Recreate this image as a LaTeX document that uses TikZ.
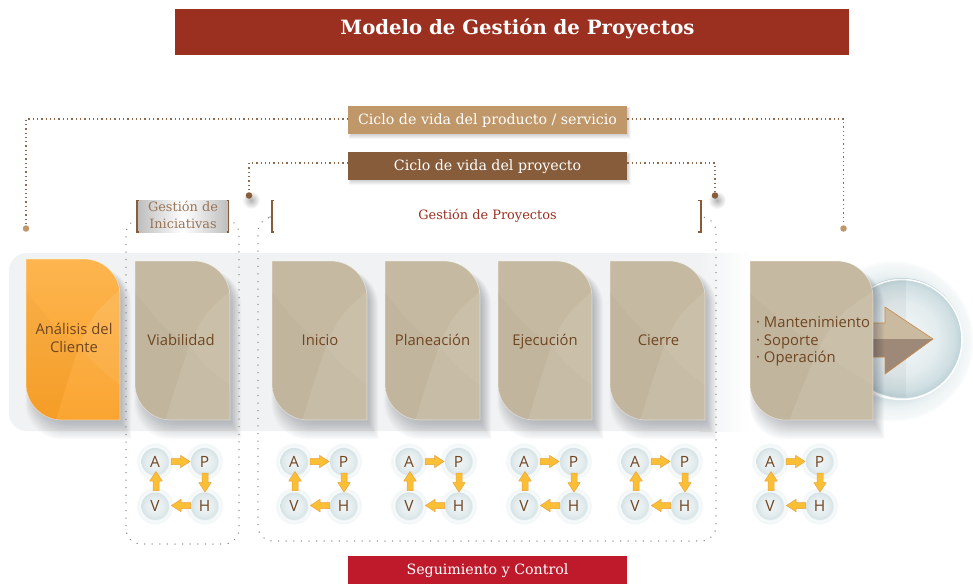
\documentclass[tikz,border=0pt]{standalone}
\usepackage{fontspec}
\setmainfont{DejaVu Serif}
\newfontfamily\cardfont{Open Sans}
\usetikzlibrary{arrows.meta,calc,shadings,fadings}
\definecolor{titlered}{HTML}{9B2F20}
\definecolor{tanbox}{HTML}{C09769}
\definecolor{brownbox}{HTML}{875C3A}
\definecolor{redbox}{HTML}{BE1A2C}
\definecolor{cardtan}{HTML}{C5B9A1}
\definecolor{cardtxt}{HTML}{704622}
\definecolor{dotbrown}{HTML}{8F6A4C}
\definecolor{dotgrey}{HTML}{858585}
\definecolor{arrowy}{HTML}{FBBF35}
\definecolor{arrowe}{HTML}{E9A23B}
\definecolor{discedge}{HTML}{BDD2D7}
\definecolor{orgA}{HTML}{FDB550}
\definecolor{orgB}{HTML}{FAA127}
\definecolor{bandc}{HTML}{F0F2F3}
\definecolor{slate}{HTML}{2A3240}
\definecolor{arrowup}{HTML}{C9BAA0}
\definecolor{arrowlow}{HTML}{9E8878}
\definecolor{arrowline}{HTML}{C98A4A}
\pgfdeclareradialshading{ringshade}{\pgfpoint{0bp}{0bp}}{color(0bp)=(white);color(17bp)=(white);color(18bp)=(discedge!60!white);color(20.5bp)=(discedge!30!white);color(24bp)=(discedge!14!white);color(25bp)=(white);color(50bp)=(white)}
\pgfdeclareradialshading{discshade}{\pgfpoint{0bp}{0bp}}{color(0bp)=(white!85!discedge);color(15bp)=(white!58!discedge);color(22bp)=(white!28!discedge);color(25bp)=(discedge);color(50bp)=(discedge)}
\pgfdeclareradialshading{pdcashade}{\pgfpoint{0bp}{0bp}}{color(0bp)=(white!78!discedge);color(15bp)=(white!62!discedge);color(22bp)=(white!48!discedge);color(25bp)=(white!35!discedge);color(50bp)=(white!35!discedge)}
\pgfdeclareradialshading{smallring}{\pgfpoint{0bp}{0bp}}{color(0bp)=(white);color(18bp)=(white!50!discedge);color(19.5bp)=(white!92!discedge);color(23.5bp)=(white!78!discedge);color(25bp)=(white!95!discedge);color(50bp)=(white)}
\pgfdeclareradialshading{softdot}{\pgfpoint{0bp}{0bp}}{color(0bp)=(black!30!white);color(12bp)=(black!15!white);color(25bp)=(white);color(50bp)=(white)}
\tikzset{
  x=1pt,y=-1pt,
  banner/.style={minimum height=28pt,inner sep=0pt,text=white,font=\fontsize{14.2}{16}\selectfont,text height=10pt,text depth=1pt},
  brdots/.style={draw=dotbrown,line width=1.5pt,dash pattern=on 1.3pt off 3pt},
  grdots/.style={draw=dotgrey,line width=1.4pt,line cap=round,dash pattern=on 0.1pt off 7.5pt,rounded corners=15pt},
  endtan/.style={circle,fill=tanbox,minimum size=6.5pt,inner sep=0pt},
  endbrown/.style={circle,fill=brownbox,minimum size=6.5pt,inner sep=0pt},
  cardlabel/.style={font=\cardfont\fontsize{14.8}{17.5}\selectfont,text=cardtxt,align=center,inner sep=0pt},
  oneline/.style={cardlabel,anchor=base},
  pdca/.style={circle,inner sep=0pt,minimum size=27pt,font=\cardfont\fontsize{15.5}{16}\selectfont,text=cardtxt},
  bracket/.style={draw=brownbox,line width=1.3pt},
}
% card outline: x0,y0,x1,y1,radius
\newcommand{\cardpath}[5]{(#1,#2) -- ({#3-#5},#2) .. controls ({#3-#5*0.45},#2) and (#3,{#2+#5*0.45}) .. (#3,{#2+#5}) -- (#3,#4) -- ({#1+#5},#4) .. controls ({#1+#5*0.45},#4) and (#1,{#4-#5*0.45}) .. (#1,{#4-#5}) -- cycle}
% name, x0,y0,x1,y1, colour A, colour B
\newcommand{\cardshape}[7]{%
  \foreach \sh in {16,15,...,0}{
    \fill[slate,opacity=0.02] \cardpath{#2+9-\sh*0.6}{#3+8}{#4+\sh*0.7}{#5+\sh*1.2}{36};
  }
  \shade[top color=#6,bottom color=#7] \cardpath{#2}{#3}{#4}{#5}{36};
  \begin{scope}
    \clip \cardpath{#2}{#3}{#4}{#5}{36};
    \coordinate (#1m) at ({#2+0.57*(#4-#2)},{#3+0.53*(#5-#3)});
    \fill[white,opacity=0.10] (#1m) .. controls ({#2+0.72*(#4-#2)},{#3+0.65*(#5-#3)}) .. (#4,{#3+0.78*(#5-#3)}) -- (#4,{#3+0.19*(#5-#3)}) .. controls ({#2+0.72*(#4-#2)},{#3+0.34*(#5-#3)}) .. cycle;
    \fill[white,opacity=0.05] (#1m) .. controls ({#2+0.42*(#4-#2)},{#3+0.8*(#5-#3)}) .. ({#2+0.32*(#4-#2)},#5) -- (#4,#5) -- (#4,{#3+0.78*(#5-#3)}) .. controls ({#2+0.72*(#4-#2)},{#3+0.65*(#5-#3)}) .. cycle;
    \fill[black,opacity=0.02] (#1m) .. controls ({#2+0.3*(#4-#2)},{#3+0.42*(#5-#3)}) .. (#2,{#3+0.2*(#5-#3)}) -- (#2,#5) -- ({#2+0.32*(#4-#2)},#5) .. controls ({#2+0.42*(#4-#2)},{#3+0.8*(#5-#3)}) .. cycle;
  \end{scope}
  \draw[white,opacity=0.45,line width=0.7pt] \cardpath{#2}{#3}{#4}{#5}{36};
}
% block arrow, local frame pointing +x
\newcommand{\blockarrow}[2]{%
  \begin{scope}[shift={#1},rotate=#2]
    \fill[arrowy,draw=arrowe,line width=0.5pt] (-9.5,-3) -- (0,-3) -- (0,-6.2) -- (9.5,0) -- (0,6.2) -- (0,3) -- (-9.5,3) -- cycle;
  \end{scope}}
\newcommand{\softrect}[4]{%
  \foreach \sh in {5,4,...,0}{
    \fill[black,opacity=0.035] ({#1+3-\sh*0.4},{#2+3-\sh*0.4}) rectangle ({#3+\sh*0.8},{#4+\sh*0.9});
  }}
\newcommand{\pdcacircle}[3]{%
  \shade[shading=smallring] (#2) circle[radius=18.5];
  \node[pdca,shade,shading=pdcashade] (#1) at (#2) {#3};}
% prefix, x of A column
\newcommand{\pdcagroup}[2]{%
  \pdcacircle{#1A}{#2,461.5}{A}
  \pdcacircle{#1P}{#2+49.5,461.5}{P}
  \pdcacircle{#1V}{#2,506}{V}
  \pdcacircle{#1H}{#2+49.5,506}{H}
  \blockarrow{(#2+25.5,461.5)}{0}
  \blockarrow{(#2+50,482.5)}{-90}
  \blockarrow{(#2+26,505.5)}{180}
  \blockarrow{(#2+1,481)}{90}
}
\begin{document}
\begin{tikzpicture}
\useasboundingbox (0,0) rectangle (973,583);
\fill[white] (0,0) rectangle (973,583);

% title
\fill[titlered] (175,9) rectangle (849,55);
\node[inner sep=0pt,text=white,font=\bfseries\fontsize{19.7}{22}\selectfont] (title) at (517.5,28.5) {Modelo de Gestión de Proyectos};

% band
\fill[bandc,rounded corners=18pt] (9,253) rectangle (730,431);
\shade[left color=bandc,right color=white] (700,253) rectangle (750,431);
\shade[left color=white,middle color=bandc,right color=white] (750,253) rectangle (862,431);

% shadow + banners
\softrect{348}{106}{627}{134}
\softrect{348}{152}{627}{180}
\node[banner,fill=tanbox,minimum width=279pt] (product) at (487.5,120) {Ciclo de vida del producto / servicio};
\node[banner,fill=brownbox,minimum width=279pt] (project) at (487.5,166) {Ciclo de vida del proyecto};
\node[banner,fill=redbox,minimum width=279pt,anchor=north] (control) at (487.5,556) {Seguimiento y Control};

% ends of brackets
\node[endtan] (p1) at (26,228.5) {};
\node[endtan] (p2) at (843.5,228.5) {};
\shade[shading=softdot] (251,200) circle[radius=9];
\shade[shading=softdot] (717,200) circle[radius=9];
\node[endbrown] (q1) at (249,195.5) {};
\node[endbrown] (q2) at (715,195.5) {};
\draw[brdots] (product.west |- 0,119) -- (26,119) -- (p1);
\draw[brdots] (product.east |- 0,119) -- (843.5,119) -- (p2);
\draw[brdots] (project.west |- 0,163) -- (249,163) -- (q1);
\draw[brdots] (project.east |- 0,163) -- (715,163) -- (q2);

% big disc and arrow
\shade[shading=ringshade] (893,341) circle[radius=81];
\shade[shading=discshade] (902,338) circle[radius=60];
\draw[white,line width=1.5pt] (902,339.5) circle[radius=60];
\begin{scope}
  \clip (902,338) circle[radius=59];
  \fill[black,opacity=0.04] (840,270) rectangle (905.5,400);
\end{scope}
\fill[arrowup] (860,339) -- (860,323) -- (885,323) -- (885,307) -- (933,339) -- cycle;
\fill[arrowlow] (860,339) -- (860,357) -- (885,357) -- (885,374) -- (933,339) -- cycle;
\draw[arrowline,line width=0.6pt] (860,323) -- (885,323) -- (885,307) -- (933,339) -- (885,374) -- (885,357) -- (860,357);

% cards
\cardshape{a}{26}{259}{120}{420}{orgA}{orgB}
\cardshape{b}{135}{261}{230}{420}{cardtan}{cardtan}
\cardshape{c}{272}{261}{367}{420}{cardtan}{cardtan}
\cardshape{d}{385}{261}{480}{420}{cardtan}{cardtan}
\cardshape{e}{498}{261}{592}{420}{cardtan}{cardtan}
\cardshape{f}{610}{261}{705}{420}{cardtan}{cardtan}
\cardshape{g}{750}{261}{873}{420}{cardtan}{cardtan}
\node[cardlabel] (analisis) at (74,338) {Análisis del\\Cliente};
\node[oneline] (viabilidad) at (181,345) {Viabilidad};
\node[oneline] (inicio) at (320,345) {Inicio};
\node[oneline] (planeacion) at (432.5,345) {Planeación};
\node[oneline] (ejecucion) at (545,345) {Ejecución};
\node[oneline] (cierre) at (658.5,345) {Cierre};
\node[cardlabel,align=left,anchor=west] (oper) at (756,341.5) {· Mantenimiento\\· Soporte\\· Operación};

% grey dotted groups
\coordinate (g1a) at (137,219); \coordinate (g1b) at (126,219);
\coordinate (g1c) at (126,544); \coordinate (g1d) at (239,544);
\coordinate (g1e) at (239,219); \coordinate (g1f) at (229,219);
\draw[grdots] (g1a) -- (g1b) -- (g1c) -- (g1d) -- (g1e) -- (g1f);
\coordinate (g2a) at (270,217); \coordinate (g2b) at (258,217);
\coordinate (g2c) at (258,541); \coordinate (g2d) at (716,541);
\coordinate (g2e) at (716,217); \coordinate (g2f) at (700,217);
\draw[grdots] (g2a) -- (g2b) -- (g2c) -- (g2d) -- (g2e) -- (g2f);

% headers
\shade[left color=black!26,right color=black!26,middle color=white] (137,200) rectangle (229,232);
\node[inner sep=0pt,align=center,text=brownbox!85!white,font=\fontsize{12.9}{17}\selectfont] (iniciativas) at (183,215) {Gestión de\\Iniciativas};
\draw[bracket] (139,200.5) -- (137,200.5) -- (137,232) -- (139,232);
\draw[bracket] (227,200.5) -- (228.5,200.5) -- (228.5,232) -- (227,232);
\draw[bracket] (274,200.5) -- (272,200.5) -- (272,232) -- (274,232);
\draw[bracket] (698,200.5) -- (701,200.5) -- (701,232) -- (698,232);
\node[inner sep=0pt,text=titlered,font=\fontsize{12.9}{15}\selectfont] (gestion) at (487.5,215.5) {Gestión de Proyectos};

% PDCA
\pdcagroup{x}{155}
\pdcagroup{y}{294}
\pdcagroup{z}{409}
\pdcagroup{u}{524}
\pdcagroup{v}{635}
\pdcagroup{w}{770}
\end{tikzpicture}
\end{document}
